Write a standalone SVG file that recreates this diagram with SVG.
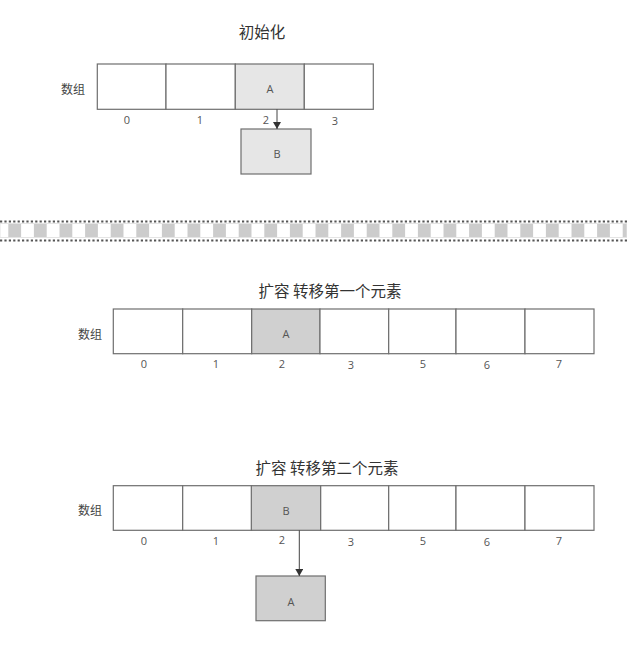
<svg xmlns="http://www.w3.org/2000/svg" width="627" height="645" viewBox="0 0 627 645">
<style>
.cell{fill:#fff;stroke:#6e6e6e;stroke-width:1.2}
.hl1{fill:#e6e6e6;stroke:#6e6e6e;stroke-width:1.2}
.hl2{fill:#d0d0d0;stroke:#6e6e6e;stroke-width:1.2}
.t{font-family:"Open Sans","Noto Sans CJK SC",sans-serif;font-size:11px;fill:#555;text-anchor:middle;dominant-baseline:central}
.ti{font-family:"Noto Sans CJK SC",sans-serif;font-size:15.5px;fill:#333;text-anchor:middle;dominant-baseline:central}
.lab{font-family:"Noto Sans CJK SC",sans-serif;font-size:12px;fill:#444;text-anchor:middle;dominant-baseline:central}
.con{stroke:#444;stroke-width:1;fill:none}
.dot{stroke:#555;stroke-width:2;stroke-dasharray:2.2 2.2}
</style>
<defs>
<marker id="ah" markerWidth="8" markerHeight="9" refX="7" refY="4" orient="auto" markerUnits="userSpaceOnUse">
<path d="M0,0 L7,4 L0,8 Z" fill="#333"/>
</marker>
<pattern id="chk" x="8.3" y="0" width="25.6" height="20" patternUnits="userSpaceOnUse">
<rect x="0" y="0" width="12.8" height="20" fill="#cccccc"/>
</pattern>
</defs>

<g id="section1">
<text class="ti" x="262" y="31">初始化</text>
<text class="lab" x="73" y="88">数组</text>
<g id="arr1">
<rect class="cell" x="97.3" y="64" width="68.7" height="45.3"/>
<rect class="cell" x="166" y="64" width="69.3" height="45.3"/>
<rect class="hl1" x="235.3" y="64" width="69" height="45.3"/>
<rect class="cell" x="304.3" y="64" width="69" height="45.3"/>
<text class="t" x="270" y="88">A</text>
<text class="t" x="127" y="119">0</text>
<text class="t" x="200" y="119">1</text>
<text class="t" x="266" y="119">2</text>
<text class="t" x="335" y="120">3</text>
</g>
<g id="nodeB1">
<rect class="hl1" x="241" y="129" width="70" height="45"/>
<text class="t" x="277" y="153">B</text>
</g>
</g>

<g id="separator">
<rect x="0" y="223.5" width="627" height="14" fill="url(#chk)" stroke="#e4e4e4" stroke-width="1"/>
<line class="dot" x1="0" y1="221.5" x2="627" y2="221.5"/>
<line class="dot" x1="0" y1="240.5" x2="627" y2="240.5"/>
</g>

<g id="section2">
<text class="ti" x="330" y="290">扩容 转移第一个元素</text>
<text class="lab" x="90" y="333">数组</text>
<g id="arr2">
<rect class="cell" x="113.3" y="309" width="69.4" height="44.7"/>
<rect class="cell" x="182.7" y="309" width="69" height="44.7"/>
<rect class="hl2" x="251.7" y="309" width="68.3" height="44.7"/>
<rect class="cell" x="320" y="309" width="68.7" height="44.7"/>
<rect class="cell" x="388.7" y="309" width="67.3" height="44.7"/>
<rect class="cell" x="456" y="309" width="69" height="44.7"/>
<rect class="cell" x="525" y="309" width="69" height="44.7"/>
<text class="t" x="286" y="333">A</text>
<text class="t" x="144" y="363">0</text>
<text class="t" x="216" y="363">1</text>
<text class="t" x="282" y="363">2</text>
<text class="t" x="351" y="364">3</text>
<text class="t" x="423" y="363">5</text>
<text class="t" x="487" y="364">6</text>
<text class="t" x="559" y="363">7</text>
</g>
</g>

<g id="section3">
<text class="ti" x="327" y="467">扩容 转移第二个元素</text>
<text class="lab" x="90" y="509">数组</text>
<g id="arr3">
<rect class="cell" x="113.3" y="485.7" width="69.4" height="44.6"/>
<rect class="cell" x="182.7" y="485.7" width="69" height="44.6"/>
<rect class="hl2" x="251.3" y="485.7" width="69.4" height="44.6"/>
<rect class="cell" x="320.7" y="485.7" width="68" height="44.6"/>
<rect class="cell" x="388.7" y="485.7" width="67.3" height="44.6"/>
<rect class="cell" x="456" y="485.7" width="69" height="44.6"/>
<rect class="cell" x="525" y="485.7" width="69" height="44.6"/>
<text class="t" x="286" y="510">B</text>
<text class="t" x="144" y="540">0</text>
<text class="t" x="216" y="540">1</text>
<text class="t" x="282" y="539">2</text>
<text class="t" x="351" y="541">3</text>
<text class="t" x="423" y="540">5</text>
<text class="t" x="487" y="541">6</text>
<text class="t" x="559" y="540">7</text>
</g>
<g id="nodeA3">
<rect class="hl2" x="256" y="576" width="69.3" height="44.7"/>
<text class="t" x="291" y="601">A</text>
</g>
</g>

<g id="connectors">
<line class="con" x1="277" y1="109.3" x2="277" y2="129" marker-end="url(#ah)"/>
<line class="con" x1="299.3" y1="530.3" x2="299.3" y2="576" marker-end="url(#ah)"/>
</g>
</svg>
